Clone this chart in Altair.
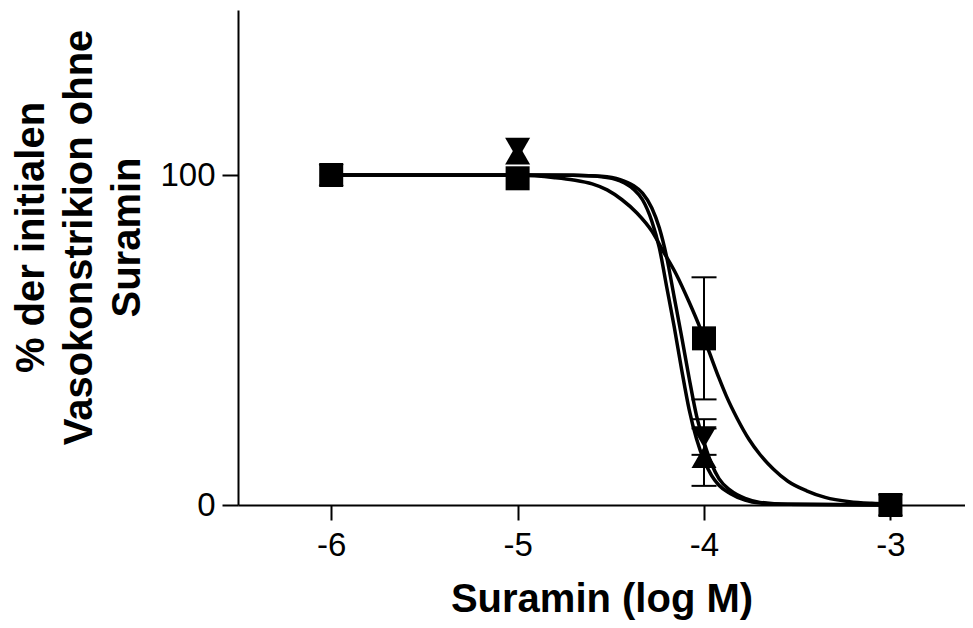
import altair as alt
import pandas as pd

# measured data points (log M)
x_points = [-6, -5, -4, -3]
sq_y = [100, 99, 50.5, 0]
sq_err = [0, 0, 18.5, 0]
tu_y = [100, 106.5, 14.5, 0]
tu_err = [0, 0, 8.7, 0]
td_y = [100, 108, 20.6, 0]
td_err = [0, 0, 5.4, 0]

# fitted curves
sq_curve_x = [-6.0, -5.0, -4.8, -4.7, -4.6, -4.52, -4.44, -4.36, -4.28, -4.22, -4.15, -4.08,
              -4.02, -3.97, -3.92, -3.88, -3.82, -3.76, -3.70, -3.63, -3.55, -3.45, -3.35,
              -3.22, -3.1, -3.0]
sq_curve_y = [100, 99.9, 99.2, 98.5, 97.3, 95.5, 92.5, 88.5, 83, 77, 70, 61.5,
              53.5, 46, 38.5, 33, 26, 20, 15.3, 11, 7.2, 4.3, 2.3,
              1.0, 0.5, 0.3]
tu_curve_x = [-6.0, -5.0, -4.7, -4.55, -4.45, -4.38, -4.33, -4.28, -4.24, -4.20, -4.16, -4.12,
              -4.08, -4.04, -4.00, -3.96, -3.92, -3.86, -3.78, -3.70, -3.55, -3.0]
tu_curve_y = [100, 100, 99.9, 99.5, 98.2, 95.8, 92.5, 86, 78, 66, 54, 41,
              29, 20, 13.5, 9, 6, 3.5, 1.5, 0.6, 0.2, 0]
td_curve_x = [-6.0, -5.0, -4.7, -4.55, -4.45, -4.38, -4.33, -4.28, -4.24, -4.20, -4.16, -4.12,
              -4.08, -4.04, -4.00, -3.96, -3.92, -3.86, -3.78, -3.70, -3.55, -3.0]
td_curve_y = [100, 100, 99.9, 99.6, 98.6, 96.8, 94.5, 90, 84, 75, 63, 51,
              38.5, 27, 19, 12.5, 8, 4.5, 2, 0.8, 0.2, 0]

x_ticks = [-6, -5, -4, -3]
y_ticks = [0, 100]

rows = []
for name, ys, errs in [("sq", sq_y, sq_err), ("tu", tu_y, tu_err), ("td", td_y, td_err)]:
    for x, y, e in zip(x_points, ys, errs):
        rows.append({"series": name, "x": x, "y": y, "lo": y - e, "hi": y + e, "err": e})
pts = pd.DataFrame(rows)

crows = []
for name, xs, ys in [("sq", sq_curve_x, sq_curve_y), ("tu", tu_curve_x, tu_curve_y),
                     ("td", td_curve_x, td_curve_y)]:
    for x, y in zip(xs, ys):
        crows.append({"series": name, "x": x, "y": y})
curves = pd.DataFrame(crows)

FONT = "Liberation Sans"

xscale = alt.Scale(domain=[-6.5, -2.6], nice=False, zero=False)
yscale = alt.Scale(domain=[0, 150], nice=False, zero=False)

xaxis = alt.Axis(values=x_ticks, labelExpr="'' + datum.value", grid=False,
                 title="Suramin (log M)", titleFont=FONT, titleFontSize=40, titleFontWeight="bold",
                 titleColor="black", titleBaseline="alphabetic", titleY=106,
                 labelFont=FONT, labelFontSize=33, labelColor="black", labelPadding=9,
                 tickSize=15, tickWidth=2, tickColor="black", domainColor="black", domainWidth=2)
yaxis = alt.Axis(values=y_ticks, grid=False,
                 title=["% der initialen", "Vasokonstrikion ohne", "Suramin"],
                 titleFont=FONT, titleFontSize=40, titleFontWeight="bold", titleColor="black",
                 titleAngle=270, titleAlign="center", titleBaseline="top", titleLineHeight=48,
                 titleX=-227, titleY=227,
                 labelFont=FONT, labelFontSize=33, labelColor="black", labelPadding=7,
                 tickSize=16, tickWidth=2, tickColor="black", domainColor="black", domainWidth=2)

base_x = alt.X("x:Q", scale=xscale, axis=xaxis)
base_y = alt.Y("y:Q", scale=yscale, axis=yaxis)

lines = alt.Chart(curves).mark_line(color="black", strokeWidth=3.5, interpolate="monotone").encode(
    x=base_x, y=base_y, detail="series:N")

errdata = alt.Chart(pts).transform_filter("datum.err > 0")
rules = errdata.mark_rule(color="black", strokeWidth=2).encode(
    x="x:Q", y="lo:Q", y2="hi:Q")
cap_lo = errdata.mark_tick(color="black", orient="horizontal", size=25, thickness=2, opacity=1).encode(
    x="x:Q", y="lo:Q")
cap_hi = errdata.mark_tick(color="black", orient="horizontal", size=25, thickness=2, opacity=1).encode(
    x="x:Q", y="hi:Q")

def markers(name, shape, size):
    return alt.Chart(pts).transform_filter(f"datum.series == '{name}'").mark_point(
        shape=shape, size=size, filled=True, opacity=1, color="black").encode(x="x:Q", y="y:Q")

tri_up = markers("tu", "triangle-up", 625)
tri_down = markers("td", "triangle-down", 625)
squares = markers("sq", "square", 576)

chart = alt.layer(lines, rules, cap_lo, cap_hi, tri_up, tri_down, squares).properties(
    width=727, height=495,
    autosize=alt.AutoSizeParams(type="none"),
    padding={"left": 230, "top": 2, "right": 0, "bottom": 115},
    background="white",
).configure_view(strokeWidth=0, strokeOpacity=0)

chart.save("out.html", embed_options={"renderer": "svg", "actions": False})
